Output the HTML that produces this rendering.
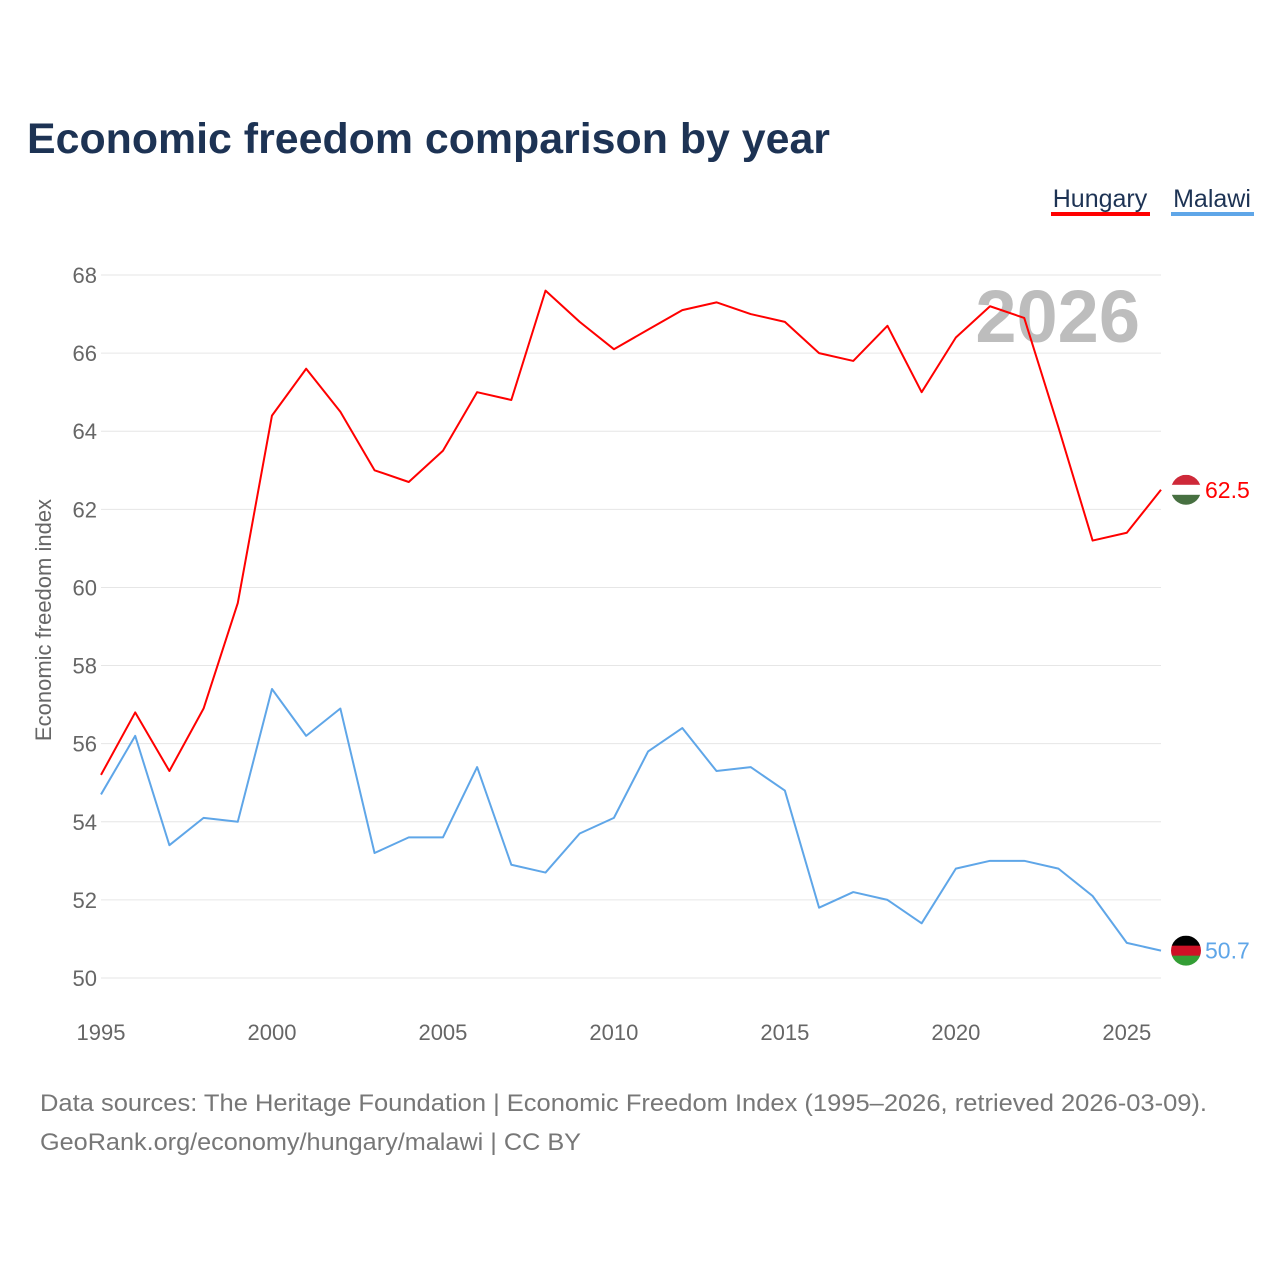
<!DOCTYPE html>
<html><head><meta charset="utf-8"><style>
body{margin:0;background:#fff;font-family:"Liberation Sans",sans-serif;}
</style></head><body>
<svg width="1280" height="1280" xmlns="http://www.w3.org/2000/svg" id="chart">
<rect width="1280" height="1280" fill="#fff"/>
<text x="27" y="153" font-size="43" font-weight="bold" fill="#1d3354" textLength="803" lengthAdjust="spacingAndGlyphs">Economic freedom comparison by year</text>
<g>
<text x="1100" y="207" font-size="25" fill="#1d3354" text-anchor="middle">Hungary</text>
<rect x="1051" y="212" width="99" height="4" fill="#ff0000"/>
<text x="1212" y="207" font-size="25" fill="#1d3354" text-anchor="middle">Malawi</text>
<rect x="1171" y="212" width="83" height="4" fill="#5fa6e8"/>
</g>
<text x="1140" y="342" font-size="74" font-weight="bold" fill="#bdbdbd" text-anchor="end">2026</text>
<text transform="translate(51,620) rotate(-90)" font-size="22" fill="#666" text-anchor="middle">Economic freedom index</text>
<g id="grid"></g><g id="lines"></g>
<text x="40" y="1111" font-size="24" fill="#777" textLength="1167" lengthAdjust="spacingAndGlyphs">Data sources: The Heritage Foundation | Economic Freedom Index (1995–2026, retrieved 2026-03-09).</text>
<text x="40" y="1150" font-size="24" fill="#777" textLength="541" lengthAdjust="spacingAndGlyphs">GeoRank.org/economy/hungary/malawi | CC BY</text>
</svg>
<script>
const years=[1995,1996,1997,1998,1999,2000,2001,2002,2003,2004,2005,2006,2007,2008,2009,2010,2011,2012,2013,2014,2015,2016,2017,2018,2019,2020,2021,2022,2023,2024,2025,2026];
const hungary=[55.2,56.8,55.3,56.9,59.6,64.4,65.6,64.5,63.0,62.7,63.5,65.0,64.8,67.6,66.8,66.1,66.6,67.1,67.3,67.0,66.8,66.0,65.8,66.7,65.0,66.4,67.2,66.9,64.1,61.2,61.4,62.5];
const malawi=[54.7,56.2,53.4,54.1,54.0,57.4,56.2,56.9,53.2,53.6,53.6,55.4,52.9,52.7,53.7,54.1,55.8,56.4,55.3,55.4,54.8,51.8,52.2,52.0,51.4,52.8,53.0,53.0,52.8,52.1,50.9,50.7];
const yTicks=[50,52,54,56,58,60,62,64,66,68];
const xTicks=[1995,2000,2005,2010,2015,2020,2025];
const NS="http://www.w3.org/2000/svg";
const X=v=>101+(v-1995)*(1161-101)/31;
const Y=v=>978-(v-50)*(978-275)/18;
function mk(t,a,p){const e=document.createElementNS(NS,t);for(const k in a)e.setAttribute(k,a[k]);p.appendChild(e);return e;}
const g=document.getElementById('grid');
yTicks.forEach(v=>{
 const l=mk('line',{x1:101,x2:1161,y1:Y(v),y2:Y(v),stroke:'#e6e6e6','stroke-width':1},g);
 
 
 const t=mk('text',{x:97,y:Y(v)+8,'font-size':22,fill:'#666','text-anchor':'end'},g);t.textContent=v;
 
 
});
xTicks.forEach(v=>{
 const t=mk('text',{x:X(v),y:1040,'font-size':22,fill:'#666','text-anchor':'middle'},g);t.textContent=v;
 
 
});
const L=document.getElementById('lines');
function series(d,c,name,flag){
 const p=mk('polyline',{points:d.map((v,i)=>X(years[i])+','+Y(v)).join(' '),fill:'none',stroke:c,'stroke-width':2,'stroke-linejoin':'round'},L);
 
 
 const last=d[d.length-1],cy=Y(last),cx=1186;
 const fg=mk('g',{},L);
 
 
 const id='clip'+name;const cp=mk('clipPath',{id:id},fg);mk('circle',{cx:cx,cy:cy,r:15},cp);
 const gg=mk('g',{'clip-path':'url(#'+id+')'},fg);
 flag.forEach((col,i)=>mk('rect',{x:cx-15,y:cy-15+i*10,width:30,height:10.5,fill:col},gg));
 const t=mk('text',{x:1205,y:cy+8,'font-size':23,fill:c},L);t.textContent=last.toFixed(1);
 
 
}
series(hungary,'#ff0000','hungary',['#ce2939','#ffffff','#477041']);
series(malawi,'#5fa6e8','malawi',['#000000','#ce1126','#339e35']);
</script>
</body></html>
